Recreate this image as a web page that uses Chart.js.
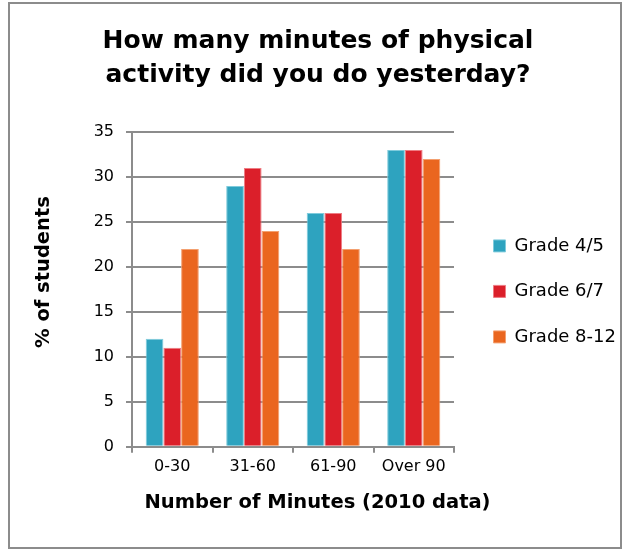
<!DOCTYPE html>
<html>
<head>
<meta charset="utf-8">
<script src="https://cdn.jsdelivr.net/npm/chart.js@4.4.0/dist/chart.umd.min.js"></script>
<style>
  body { margin: 0; background: #fff; }
  .frame {
    position: absolute; left: 8px; top: 2px;
    width: 614px; height: 547px;
    box-sizing: border-box;
    border: 2px solid #8c8c8c;
    background: #fff;
  }
  canvas { display: block; }
</style>
</head>
<body>
<div class="frame"><canvas id="chart" width="610" height="543"></canvas></div>
<script>
  // chart data
  const categories = ['0-30', '31-60', '61-90', 'Over 90'];
  const grade45 = [12, 29, 26, 33];
  const grade67 = [11, 31, 26, 33];
  const grade812 = [22, 24, 22, 32];
  const seriesNames = ['Grade 4/5', 'Grade 6/7', 'Grade 8-12'];
  const yTicks = [0, 5, 10, 15, 20, 25, 30, 35];
  const xTitle = 'Number of Minutes (2010 data)';
  const yTitle = '% of students';

  const fontFam = '"DejaVu Sans", Verdana, sans-serif';
  const gridGrey = '#8c8c8c';

  // put the legend items a fixed gap right of the plot
  const legendShift = {
    id: 'legendShift',
    afterLayout(chart) {
      const lg = chart.legend;
      lg.left = chart.chartArea.right + 12;
      lg.right = chart.width; // legend clips to its box
      lg.top += 2;
      lg.bottom += 2;
    }
  };

  // axis titles: in the original they are centred on the whole figure, not the plot
  const axisTitles = {
    id: 'axisTitles',
    afterDraw(chart) {
      const { ctx, chartArea } = chart;
      ctx.save();
      ctx.fillStyle = '#000';
      ctx.font = 'bold 19.5px ' + fontFam;
      ctx.textAlign = 'center';
      ctx.textBaseline = 'middle';
      ctx.fillText(xTitle, chart.width / 2 + 2.5, chartArea.bottom + 56);
      ctx.translate(34, chartArea.top + 140);
      ctx.rotate(-Math.PI / 2);
      ctx.fillText(yTitle, 0, 0);
      ctx.restore();
    }
  };

  const ctx = document.getElementById('chart').getContext('2d');
  const chart = new Chart(ctx, {
    type: 'bar',
    data: {
      labels: categories,
      datasets: [
        { label: seriesNames[0], data: grade45, backgroundColor: '#2ea3bf', borderColor: '#7fcbdc', borderWidth: 1 },
        { label: seriesNames[1], data: grade67, backgroundColor: '#db1f2a', borderColor: '#ee7c83', borderWidth: 1 },
        { label: seriesNames[2], data: grade812, backgroundColor: '#ea661f', borderColor: '#f3a070', borderWidth: 1 }
      ]
    },
    plugins: [legendShift, axisTitles],
    options: {
      responsive: false,
      animation: false,
      devicePixelRatio: 1,
      layout: { padding: { left: 36, right: 30, top: 16, bottom: 67 } },
      datasets: {
        bar: { barPercentage: 1, categoryPercentage: 0.66 }
      },
      plugins: {
        title: {
          display: true,
          text: ['How many minutes of physical', 'activity did you do yesterday?'],
          color: '#000',
          font: { family: fontFam, size: 25, weight: 'bold', lineHeight: 1.36 },
          padding: { top: 4, bottom: 40 }
        },
        legend: {
          position: 'right',
          fullSize: false,
          labels: {
            color: '#000',
            font: { family: fontFam, size: 18 },
            boxWidth: 12,
            boxHeight: 12,
            padding: 27.5
          }
        },
        tooltip: { enabled: false }
      },
      scales: {
        x: {
          offset: true,
          grid: {
            offset: true,
            drawOnChartArea: false,
            color: gridGrey,
            lineWidth: 2,
            tickLength: 6
          },
          border: { color: gridGrey, width: 2 },
          ticks: { color: '#000', font: { family: fontFam, size: 16 }, padding: 4 }
        },
        y: {
          min: yTicks[0],
          max: yTicks[yTicks.length - 1],
          afterBuildTicks(scale) {
            scale.ticks = yTicks.map(v => ({ value: v }));
          },
          afterFit(scale) {
            scale.width = 86;
          },
          ticks: { color: '#000', font: { family: fontFam, size: 16 }, padding: 12 },
          grid: { color: gridGrey, lineWidth: 2, tickLength: 6 },
          border: { color: gridGrey, width: 2 }
        }
      }
    }
  });
</script>
</body>
</html>
